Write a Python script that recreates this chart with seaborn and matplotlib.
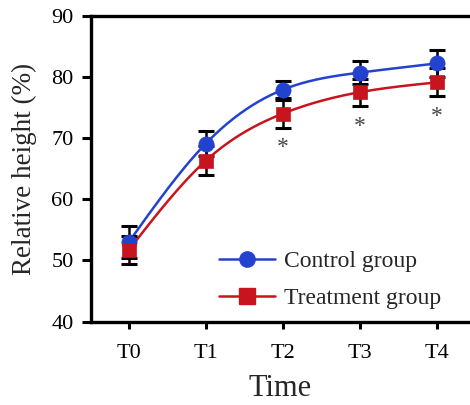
import numpy as np
import pandas as pd
import matplotlib
matplotlib.use("Agg")
import matplotlib.pyplot as plt
import seaborn as sns
from matplotlib.lines import Line2D

# Measurements per time point (mean and error)
time_points = ["T0", "T1", "T2", "T3", "T4"]
control_mean = [53.0, 69.1, 77.9, 80.7, 82.2]
control_err = [2.6, 2.1, 1.4, 1.9, 2.2]
treatment_mean = [51.7, 66.3, 74.0, 77.5, 79.1]
treatment_err = [2.3, 2.4, 2.3, 2.2, 2.3]
# significance markers (time point index, y position)
sig_index = [2, 3, 4]
sig_y = [68.4, 71.9, 73.5]

sns.set_theme(style="ticks")
plt.rcParams["font.family"] = ["Liberation Serif", "DejaVu Serif"]


def natural_spline(x, y, n=200):
    """Natural cubic spline through (x, y), evaluated on a dense grid."""
    x = np.asarray(x, float)
    y = np.asarray(y, float)
    k = len(x)
    h = np.diff(x)
    A = np.zeros((k, k))
    b = np.zeros(k)
    A[0, 0] = A[-1, -1] = 1.0
    for i in range(1, k - 1):
        A[i, i - 1] = h[i - 1]
        A[i, i] = 2 * (h[i - 1] + h[i])
        A[i, i + 1] = h[i]
        b[i] = 3 * ((y[i + 1] - y[i]) / h[i] - (y[i] - y[i - 1]) / h[i - 1])
    c = np.linalg.solve(A, b)
    xs = np.linspace(x[0], x[-1], n)
    ys = np.empty_like(xs)
    for j, xv in enumerate(xs):
        i = min(np.searchsorted(x, xv, side="right") - 1, k - 2)
        dx = xv - x[i]
        bi = (y[i + 1] - y[i]) / h[i] - h[i] * (2 * c[i] + c[i + 1]) / 3
        di = (c[i + 1] - c[i]) / (3 * h[i])
        ys[j] = y[i] + bi * dx + c[i] * dx ** 2 + di * dx ** 3
    return xs, ys


xpos = np.arange(len(time_points))
blue = "#2442d0"
red = "#c8141e"

fig = plt.figure(figsize=(4.70, 4.05), dpi=100)
ax = fig.add_axes([0.1936, 0.2057, 0.8064, 0.7556])

groups = [
    ("Control group", control_mean, control_err, blue, "o"),
    ("Treatment group", treatment_mean, treatment_err, red, "s"),
]

for name, mean, err, color, marker in groups:
    xs, ys = natural_spline(xpos, mean)
    sns.lineplot(x=xs, y=ys, ax=ax, color=color, lw=1.8, zorder=2)

for name, mean, err, color, marker in groups:
    ax.errorbar(xpos, mean, yerr=err, fmt="none", ecolor="black",
                elinewidth=1.8, capsize=5.5, capthick=2.2, zorder=3)

for name, mean, err, color, marker in groups:
    sns.scatterplot(x=xpos, y=mean, ax=ax, color=color, marker=marker,
                    s=120 if marker == "o" else 110, edgecolor=color,
                    linewidth=0.5, zorder=4)

for i, yv in zip(sig_index, sig_y):
    ax.text(xpos[i], yv, "*", ha="center", va="center", fontsize=17,
            color="#444444")

ax.set_xlim(-0.49, 4.43)
ax.set_ylim(40, 90)
ax.set_yticks([40, 50, 60, 70, 80, 90])
ax.set_xticks(xpos)
ax.set_xticklabels(time_points)
ax.tick_params(axis="both", labelsize=16, width=2.2, colors="black",
               direction="out")
ax.tick_params(axis="y", length=6.5, pad=6)
ax.tick_params(axis="x", length=5, pad=11)
for side in ["left", "bottom", "top"]:
    ax.spines[side].set_linewidth(2.4)
    ax.spines[side].set_color("black")
ax.spines["right"].set_visible(False)

ax.set_xlabel("Time", fontsize=22, labelpad=8)
ax.set_ylabel("Relative height (%)", fontsize=19.5, labelpad=10)

handles = [
    Line2D([], [], color=color, lw=1.8, marker=marker, markersize=11,
           markeredgecolor=color)
    for name, mean, err, color, marker in groups
]
ax.legend(handles, [g[0] for g in groups], loc="lower left",
          bbox_to_anchor=(0.312, 0.01), frameon=False, fontsize=17,
          handlelength=2.4, handletextpad=0.35, labelspacing=0.65,
          borderaxespad=0)

fig.savefig("out.png", dpi=100)
